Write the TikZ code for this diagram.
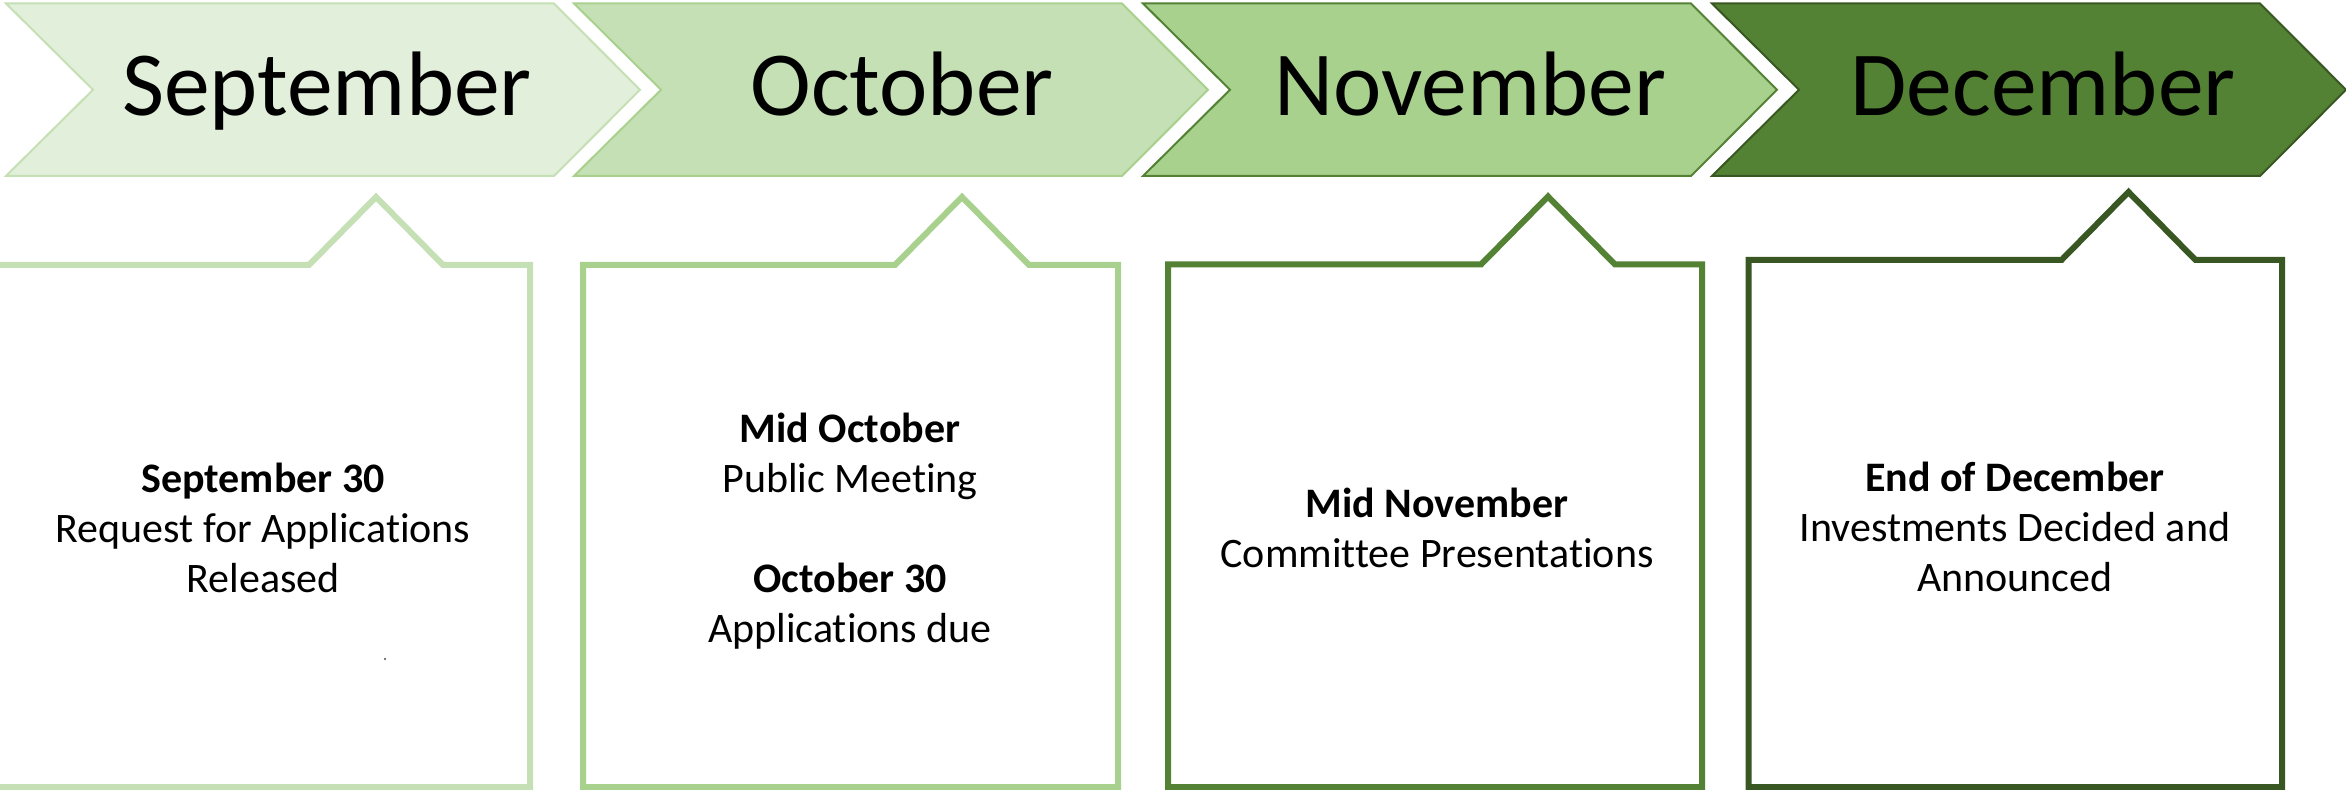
\documentclass[tikz,border=0pt]{standalone}
\usepackage{fontspec}
\setmainfont{Carlito}[Ligatures=CommonOff]
\definecolor{gA}{HTML}{E2EFDA}
\definecolor{gB}{HTML}{C5E0B4}
\definecolor{gC}{HTML}{A9D18E}
\definecolor{gD}{HTML}{548235}
\definecolor{gE}{HTML}{385723}
\newcommand\mychevron[4]{%
  \draw[chev, fill=#2, draw=#3] (#1,3.5) -- ++(548,0) -- ++(86,86.25) -- ++(-86,86.25) -- ++(-548,0) -- ++(87,-86.25) -- cycle;}
\newcommand\mycallout[5]{%
  \draw[callout, draw=#5] (#1,787) -- (#1,#3) -- (#4-67,#3) -- (#4,#3-68) -- (#4+67,#3) -- (#2,#3) -- (#2,787) -- cycle;}
\begin{document}
\begin{tikzpicture}[x=0.5pt,y=-0.5pt,
  chev/.style={line width=1pt, line join=miter},
  callout/.style={line width=3pt, fill=white, line join=miter},
  month/.style={font=\fontsize{45.8}{50}\selectfont, anchor=base, inner sep=0pt},
  info/.style={font=\fontsize{21}{25}\selectfont, anchor=base, inner sep=0pt},
  infob/.style={info, font=\fontsize{21}{25}\selectfont\bfseries}]
\useasboundingbox (0,0) rectangle (2346,790);
% chevrons
\mychevron{6}{gA}{gB}{}
\mychevron{574}{gB}{gC}{}
\mychevron{1143}{gC}{gD}{}
\mychevron{1712}{gD}{gE}{}
\node[month] (sep) at (327,116) {September};
\node[month] (oct) at (902,116) {October};
\node[month] (nov) at (1470,116) {November};
\node[month] (dec) at (2043,116) {December};
% callouts
\mycallout{-10}{530}{265}{376}{gB}
\mycallout{583}{1118}{265}{962}{gC}
\mycallout{1168}{1702}{264.5}{1548}{gD}
\mycallout{1748.5}{2282}{260}{2128.5}{gE}
% box 1
\node[infob] (s1) at (263,493) {September 30};
\node[info] (s2) at (263,543) {Request for Applications};
\node[info] (s3) at (263,593) {Released};
\fill[black!70] (385,659) circle (1.2);
% box 2
\node[infob] (o1) at (850,443) {Mid October};
\node[info] (o2) at (850,493) {Public Meeting};
\node[infob] (o3) at (850,593) {October 30};
\node[info] (o4) at (850,643) {Applications due};
% box 3
\node[infob] (n1) at (1437,518) {Mid November};
\node[info] (n2) at (1437,568) {Committee Presentations};
% box 4
\node[infob] (d1) at (2015,492) {End of December};
\node[info] (d2) at (2015,542) {Investments Decided and};
\node[info] (d3) at (2015,592) {Announced};
\end{tikzpicture}
\end{document}
